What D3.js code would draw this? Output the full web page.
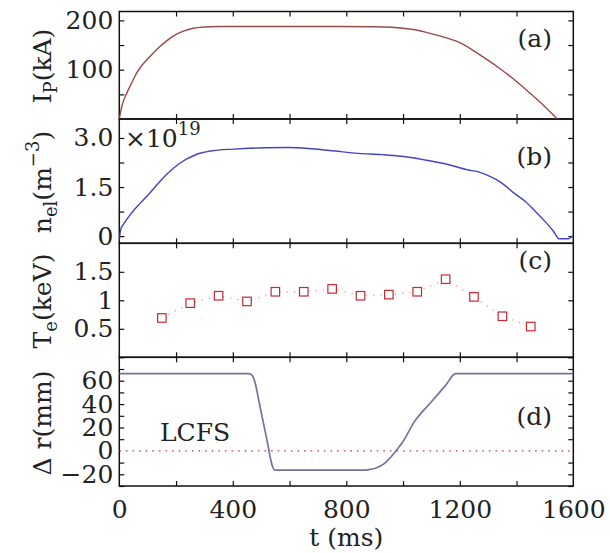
<!DOCTYPE html>
<html><head><meta charset="utf-8">
<script src="https://cdn.jsdelivr.net/npm/d3@7"></script>
<style>
html,body{margin:0;padding:0;background:#fff;}
svg{display:block;}
</style></head><body>
<svg id="chart" width="610" height="553"></svg>
<script>
// Plasma current I_P (kA)
const ipTime  = [0, 10, 26, 45, 61, 80, 102, 125, 143, 166, 190, 213, 240, 260, 290, 318, 360, 500, 700, 900, 960, 1000, 1050, 1100, 1150, 1200, 1271, 1342, 1400, 1450, 1500, 1544];
const ipValue = [0, 28, 52, 75, 93, 109, 123, 137, 147, 158, 168, 175, 181, 184, 186, 187, 187.5, 187.5, 187.5, 187, 186, 184, 180, 173, 165, 155, 130, 102, 76, 51, 25, 0];

// Line-averaged electron density n_el (x10^19 m^-3)
const nelTime  = [0, 5, 14, 38, 73, 108, 143, 171, 212, 267, 322, 404, 514, 596, 678, 760, 842, 925, 993, 1075, 1158, 1226, 1271, 1308, 1342, 1389, 1432, 1470, 1500, 1530, 1550, 1582, 1600];
const nelValue = [-0.1, 0.2, 0.35, 0.65, 1.0, 1.32, 1.67, 1.92, 2.22, 2.48, 2.6, 2.66, 2.7, 2.71, 2.67, 2.6, 2.53, 2.49, 2.44, 2.33, 2.19, 2.03, 1.95, 1.82, 1.66, 1.33, 1.05, 0.72, 0.45, 0.15, -0.08, -0.08, 0.02];

// Electron temperature T_e (keV)
const teTime  = [150, 250, 350, 450, 550, 650, 750, 850, 950, 1050, 1150, 1250, 1350, 1450];
const teValue = [0.69, 0.95, 1.08, 0.98, 1.15, 1.15, 1.2, 1.08, 1.1, 1.15, 1.37, 1.06, 0.72, 0.54];

// Limiter position relative to LCFS, Δr (mm)
const drTime  = [0, 455, 463, 470, 479, 490, 501, 512, 523, 534, 541, 548, 700, 860, 880, 900, 920, 940, 958, 975, 1000, 1040, 1100, 1150, 1185, 1600];
const drValue = [66, 66, 65.5, 64, 58, 45, 32, 19, 6, -8, -14, -16.5, -16.5, -16.5, -16, -15, -13, -9.5, -5, 0, 8, 25, 42, 56, 66, 66];
const lcfsLevel = [0];

// Axis ticks
const timeTicks = [0, 200, 400, 600, 800, 1000, 1200, 1400, 1600];
const timeLabels = [0, 400, 800, 1200, 1600];
const ipTicks = [50, 100, 150, 200],           ipLabels = [100, 200];
const nelTicks = [0, 0.75, 1.5, 2.25, 3.0],    nelLabels = [0, 1.5, 3.0];
const teTicks = [0.5, 1, 1.5],                 teLabels = [0.5, 1, 1.5];
const drTicks = [-30, -20, -10, 0, 10, 20, 30, 40, 50, 60, 70, 80], drLabels = [-20, 0, 20, 40, 60];

const FONT = '"DejaVu Serif", "Liberation Serif", serif';
const FS = 25;
const SUB = 18;
const svg = d3.select("#chart").style("font-family", FONT);
const left = 119.3, right = 573.3;
const x = d3.scaleLinear().domain([0, 1600]).range([left, right]);

const panels = [
  {key: "a", top: 11.5, bottom: 119, domain: [0, 218], ticks: ipTicks, labels: ipLabels,
   fmt: d => String(d)},
  {key: "b", top: 119, bottom: 243.3, domain: [-0.22, 3.58], ticks: nelTicks, labels: nelLabels,
   fmt: d => d === 0 ? "0" : d.toFixed(1)},
  {key: "c", top: 243.3, bottom: 357.3, domain: [0, 2], ticks: teTicks, labels: teLabels,
   fmt: d => String(d)},
  {key: "d", top: 357.3, bottom: 486, domain: [-30, 80], ticks: drTicks, labels: drLabels,
   fmt: d => d < 0 ? "\u2212" + Math.abs(d) : String(d)}
];
panels.forEach(p => { p.y = d3.scaleLinear().domain(p.domain).range([p.bottom, p.top]); });

function styleAxis(g) {
  g.attr("font-family", null).attr("font-size", null);
  g.select(".domain").remove();
  g.selectAll(".tick line").attr("stroke", "#111").attr("stroke-width", 1.2);
  g.selectAll(".tick text").style("font-family", FONT).style("font-size", FS + "px").attr("fill", "#222");
}

panels.forEach(p => {
  const g = svg.append("g");
  const inLabels = v => p.labels.some(l => Math.abs(l - v) < 1e-9);

  svg.append("clipPath").attr("id", "clip-" + p.key)
    .append("rect").attr("x", left).attr("y", p.top).attr("width", right - left).attr("height", p.bottom - p.top);

  // left axis (inward ticks)
  g.append("g").attr("transform", `translate(${left},0)`)
    .call(d3.axisLeft(p.y).tickValues(p.ticks).tickSizeInner(-5).tickSizeOuter(0).tickPadding(6)
      .tickFormat(d => inLabels(d) ? p.fmt(d) : ""))
    .call(styleAxis);
  // right axis
  g.append("g").attr("transform", `translate(${right},0)`)
    .call(d3.axisRight(p.y).tickValues(p.ticks).tickSizeInner(-5).tickSizeOuter(0).tickFormat(""))
    .call(styleAxis);
  // top axis
  g.append("g").attr("transform", `translate(0,${p.top})`)
    .call(d3.axisTop(x).tickValues(timeTicks.slice(1, -1)).tickSizeInner(-5).tickSizeOuter(0).tickFormat(""))
    .call(styleAxis);
  // bottom axis
  const bottomAxis = d3.axisBottom(x).tickValues(p.key === "d" ? timeTicks : timeTicks.slice(1, -1))
    .tickSizeInner(-5).tickSizeOuter(0).tickPadding(14)
    .tickFormat(d => p.key === "d" && timeLabels.includes(d) ? String(d) : "");
  g.append("g").attr("transform", `translate(0,${p.bottom})`).call(bottomAxis).call(styleAxis);
  if (p.key === "d") {
    g.selectAll(".tick line").filter(d => d === 0 || d === 1600).remove();
  }

  g.append("rect").attr("x", left).attr("y", p.top).attr("width", right - left).attr("height", p.bottom - p.top)
    .attr("fill", "none").attr("stroke", "#111").attr("stroke-width", 1.5);
});

const line = (p, xs, ys, curve) => d3.line().x((d, i) => x(xs[i])).y((d, i) => p.y(ys[i])).curve(curve || d3.curveMonotoneX)(xs);

// (a) plasma current
svg.append("path").attr("clip-path", "url(#clip-a)")
  .attr("d", line(panels[0], ipTime, ipValue))
  .attr("fill", "none").attr("stroke", "#9a4a46").attr("stroke-width", 1.4);

// (b) density
svg.append("path").attr("clip-path", "url(#clip-b)")
  .attr("d", line(panels[1], nelTime, nelValue))
  .attr("fill", "none").attr("stroke", "#4343c4").attr("stroke-width", 1.4);

// (c) temperature: dotted guide + open squares
svg.append("path")
  .attr("d", line(panels[2], teTime, teValue, d3.curveLinear))
  .attr("fill", "none").attr("stroke", "#ec9a9a").attr("stroke-width", 1.3).attr("stroke-dasharray", "1.3,6");
const sq = 8.5;
svg.append("g").selectAll("rect").data(teTime).join("rect")
  .attr("x", (d) => x(d) - sq / 2)
  .attr("y", (d, i) => panels[2].y(teValue[i]) - sq / 2)
  .attr("width", sq).attr("height", sq)
  .attr("fill", "#fff").attr("stroke", "#c42a32").attr("stroke-width", 1.2);

// (d) LCFS reference line and Δr trace
svg.append("g").selectAll("line").data(lcfsLevel).join("line")
  .attr("x1", left).attr("x2", right)
  .attr("y1", d => panels[3].y(d)).attr("y2", d => panels[3].y(d))
  .attr("stroke", "#b23a5c").attr("stroke-width", 1.3).attr("stroke-dasharray", "1.6,5");
svg.append("path").attr("clip-path", "url(#clip-d)")
  .attr("d", line(panels[3], drTime, drValue))
  .attr("fill", "none").attr("stroke", "#74749a").attr("stroke-width", 1.7);

function txt(sel) { return sel.style("font-family", FONT).attr("fill", "#222"); }

// panel tags
const tags = [["(a)", 47], ["(b)", 165], ["(c)", 269], ["(d)", 425]];
txt(svg.append("g").selectAll("text").data(tags).join("text"))
  .attr("x", 552).attr("y", d => d[1]).attr("text-anchor", "end").style("font-size", FS + "px")
  .text(d => d[0]);

// LCFS annotation
txt(svg.append("text")).attr("x", 160).attr("y", 441).style("font-size", FS + "px").text("LCFS");

// density multiplier
const mult = txt(svg.append("text")).attr("x", 125).attr("y", 147).style("font-size", FS + "px");
mult.append("tspan").text("\u00d710");
mult.append("tspan").style("font-size", SUB + "px").attr("dy", -12).text("19");

// y-axis titles
function yTitle(cy, build) {
  const t = txt(svg.append("text")).attr("text-anchor", "middle").style("font-size", FS + "px")
    .attr("transform", `translate(51,${cy}) rotate(-90)`);
  build(t);
}
yTitle(66, t => {
  t.append("tspan").text("I");
  t.append("tspan").style("font-size", SUB + "px").attr("dy", 6).text("P");
  t.append("tspan").attr("dy", -6).text("(kA)");
});
yTitle(182, t => {
  t.append("tspan").text("n");
  t.append("tspan").style("font-size", SUB + "px").attr("dy", 6).text("el");
  t.append("tspan").attr("dy", -6).text("(m");
  t.append("tspan").style("font-size", SUB + "px").attr("dy", -12).text("\u22123");
  t.append("tspan").attr("dy", 12).text(")");
});
yTitle(301, t => {
  t.append("tspan").text("T");
  t.append("tspan").style("font-size", SUB + "px").attr("dy", 6).text("e");
  t.append("tspan").attr("dy", -6).text("(keV)");
});
yTitle(423, t => {
  t.append("tspan").text("\u0394 r(mm)");
});

// x-axis title
txt(svg.append("text")).attr("x", x(800)).attr("y", 546).attr("text-anchor", "middle").style("font-size", FS + "px").text("t (ms)");
</script>
</body></html>
